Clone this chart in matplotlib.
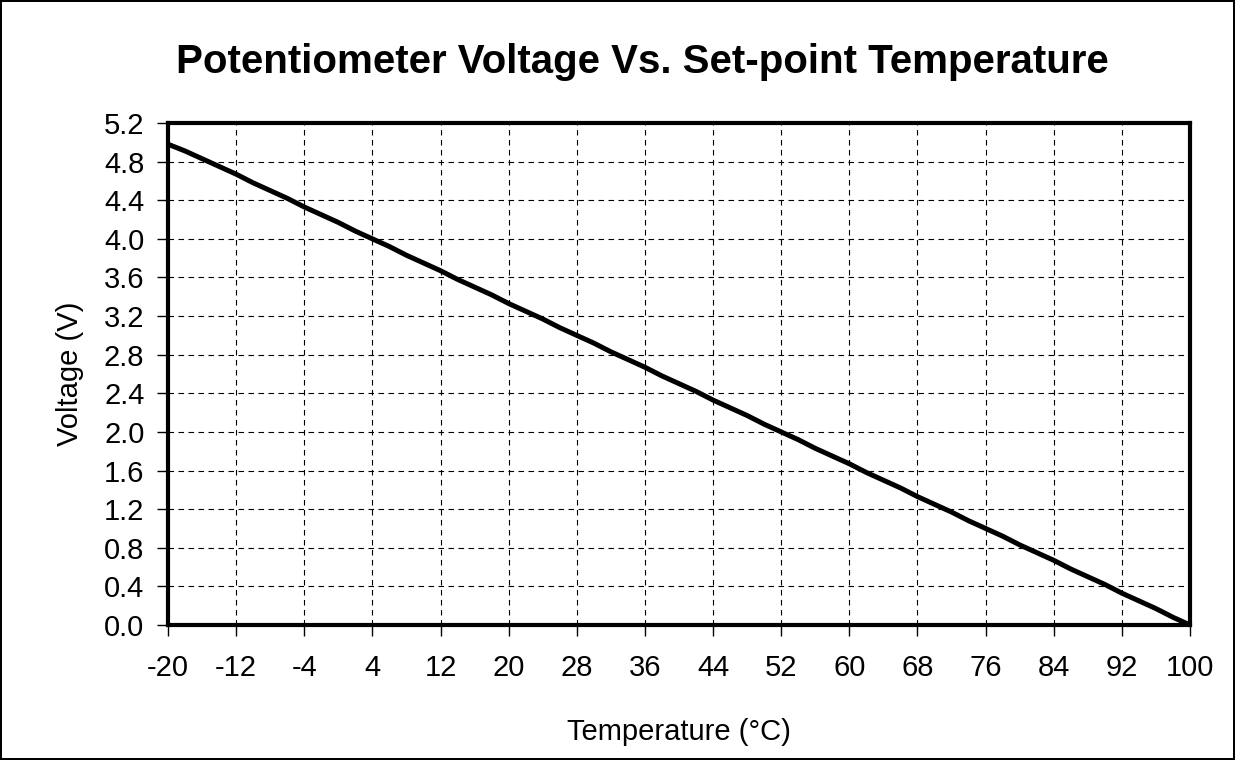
import numpy as np
import matplotlib.pyplot as plt

plt.rcParams['font.family'] = ['Liberation Sans', 'DejaVu Sans']
plt.rcParams['axes.unicode_minus'] = False

# set-point temperature (deg C) and potentiometer voltage (V)
temperature = [-20, -18, -16, -14, -12, -10, -8, -6, -4, -2,
               0, 2, 4, 6, 8, 10, 12, 14, 16, 18,
               20, 22, 24, 26, 28, 30, 32, 34, 36, 38,
               40, 42, 44, 46, 48, 50, 52, 54, 56, 58,
               60, 62, 64, 66, 68, 70, 72, 74, 76, 78,
               80, 82, 84, 86, 88, 90, 92, 94, 96, 98, 100]
voltage = [4.98, 4.91, 4.83, 4.75, 4.67, 4.58, 4.50, 4.42, 4.33, 4.25,
           4.17, 4.08, 4.00, 3.92, 3.83, 3.75, 3.67, 3.58, 3.50, 3.42,
           3.33, 3.25, 3.17, 3.08, 3.00, 2.92, 2.83, 2.75, 2.67, 2.58,
           2.50, 2.42, 2.33, 2.25, 2.17, 2.08, 2.00, 1.92, 1.83, 1.75,
           1.67, 1.58, 1.50, 1.42, 1.33, 1.25, 1.17, 1.08, 1.00, 0.92,
           0.83, 0.75, 0.67, 0.58, 0.50, 0.42, 0.33, 0.25, 0.17, 0.08, 0.00]

xticks = np.arange(-20, 101, 8)
yticks = np.arange(0, 5.21, 0.4)

fig = plt.figure(figsize=(12.35, 7.6), dpi=100)
fig.patch.set_edgecolor('black')
fig.patch.set_linewidth(1.5)
ax = fig.add_axes([168 / 1235, 1 - 625 / 760, (1190 - 168) / 1235, (625 - 123) / 760])

ax.plot(temperature, voltage, color='black', lw=3.6, solid_capstyle='round')

ax.set_xlim(-20, 100)
ax.set_ylim(0, 5.2)
ax.set_xticks(xticks)
ax.set_yticks(yticks)
ax.set_yticklabels([f"{v:.1f}" for v in yticks])
ax.tick_params(direction='out', length=8, width=1, labelsize=21, pad=9)
ax.tick_params(axis='x', pad=13)
ax.grid(True, color='black', linestyle=(0, (5, 4)), linewidth=0.8)
for s in ax.spines.values():
    s.set_linewidth(3)

ax.set_xlabel("Temperature (°C)", fontsize=21, labelpad=26)
ax.set_ylabel("Voltage (V)", fontsize=21, labelpad=14)
fig.text(642 / 1235, 1 - 62 / 760, "Potentiometer Voltage Vs. Set-point Temperature",
         fontsize=29, fontweight='bold', ha='center', va='center')

fig.savefig("out.png", dpi=100, edgecolor=fig.get_edgecolor())
